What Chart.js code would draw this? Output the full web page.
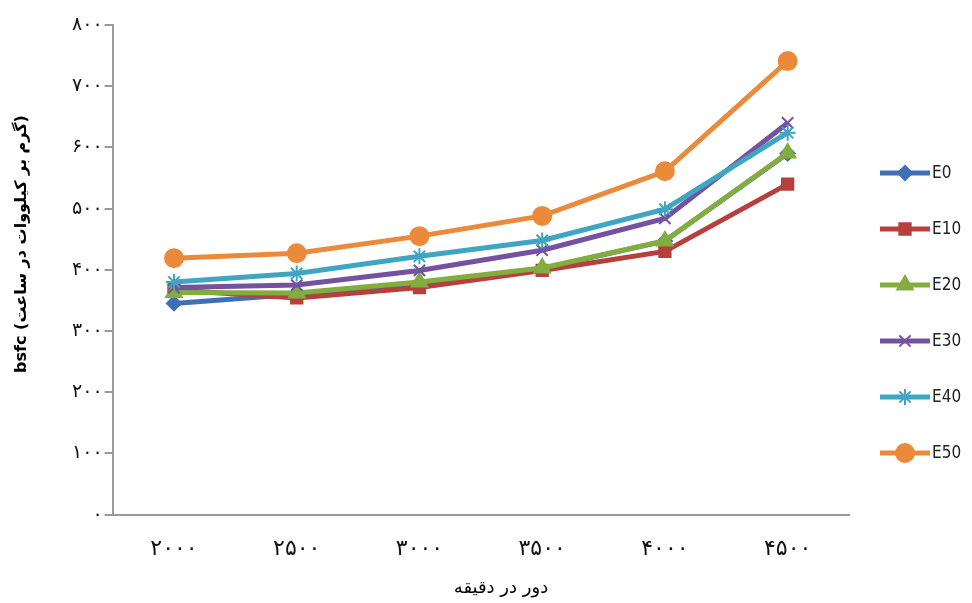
<!DOCTYPE html>
<html>
<head>
<meta charset="utf-8">
<script src="https://cdn.jsdelivr.net/npm/chart.js@4"></script>
<style>
  html, body { margin: 0; padding: 0; background: #fff; }
  #wrap { width: 972px; height: 603px; }
</style>
</head>
<body>
<div id="wrap"><canvas id="bsfcChart" width="972" height="603"></canvas></div>
<script>
// rpm categories (Persian digits as in the original)
const rpm = ["۲۰۰۰", "۲۵۰۰", "۳۰۰۰", "۳۵۰۰", "۴۰۰۰", "۴۵۰۰"];

const e0  = [345, 360, 378, 402, 447, 590];
const e10 = [367, 354, 371, 399, 430, 540];
const e20 = [363, 362, 380, 403, 447, 591];
const e30 = [371, 375, 399, 432, 484, 640];
const e40 = [380, 394, 422, 448, 499, 624];
const e50 = [419, 427, 455, 488, 561, 741];

const seriesNames = ["E0", "E10", "E20", "E30", "E40", "E50"];

const yTitle = "bsfc (گرم بر کیلووات در ساعت)";
const xTitle = "دور در دقیقه";

const faDigits = "۰۱۲۳۴۵۶۷۸۹";
function toFa(n) {
  return String(n).replace(/\d/g, d => faDigits[d]);
}

const styles = [
  { color: "#3f6fb5", point: "rectRot", r: 7 },
  { color: "#b5403d", point: "rect", r: 8 },
  { color: "#84ad3f", point: "triangle", r: 9 },
  { color: "#7452a0", point: "crossRot", r: 8 },
  { color: "#3ea5c3", point: "star", r: 8 },
  { color: "#ec8a3c", point: "circle", r: 9 },
];

const allData = [e0, e10, e20, e30, e40, e50];

// later series sit on top of earlier ones, like the original
const datasets = allData.map((vals, i) => ({
  label: seriesNames[i],
  data: vals,
  order: allData.length - i,
  borderColor: styles[i].color,
  backgroundColor: styles[i].color,
  borderWidth: 5,
  pointStyle: styles[i].point,
  pointRadius: styles[i].r,
  pointBorderWidth: 2,
  pointBackgroundColor: styles[i].color,
  pointBorderColor: styles[i].color,
  tension: 0,
}));

// legend + axis titles drawn by hand (titles sit off-centre in the original)
const sideLegend = {
  id: "sideLegend",
  afterDraw(chart) {
    const ctx = chart.ctx;
    const x0 = 880, top = 173, step = 56;
    ctx.save();
    chart.data.datasets.forEach((ds, i) => {
      const y = top + i * step;
      ctx.strokeStyle = ds.borderColor;
      ctx.fillStyle = ds.borderColor;
      ctx.lineWidth = 5;
      ctx.beginPath();
      ctx.moveTo(x0, y);
      ctx.lineTo(x0 + 50, y);
      ctx.stroke();
      ctx.lineWidth = 2;
      Chart.helpers.drawPoint(ctx, {
        pointStyle: ds.pointStyle, radius: ds.pointRadius, borderWidth: 2, rotation: 0
      }, x0 + 25, y);
      ctx.fillStyle = "#222";
      ctx.font = "17px 'DejaVu Sans Condensed', 'DejaVu Sans', sans-serif";
      ctx.textBaseline = "middle";
      ctx.textAlign = "left";
      ctx.fillText(ds.label, x0 + 52, y + 1);
    });

    ctx.fillStyle = "#000";
    ctx.textAlign = "center";
    ctx.textBaseline = "middle";
    ctx.font = "18px 'DejaVu Sans', sans-serif";
    ctx.fillText(xTitle, 501, 588);

    ctx.translate(22, 244);
    ctx.rotate(-Math.PI / 2);
    ctx.font = "bold 16px 'DejaVu Sans', sans-serif";
    ctx.fillText(yTitle, 0, 0);
    ctx.restore();
  }
};

const ctx = document.getElementById("bsfcChart").getContext("2d");
new Chart(ctx, {
  type: "line",
  data: { labels: rpm, datasets },
  plugins: [sideLegend],
  options: {
    responsive: false,
    animation: false,
    layout: { padding: { top: 25, right: 123, left: 70, bottom: 20 } },
    plugins: {
      legend: { display: false },
      tooltip: { enabled: false },
    },
    scales: {
      x: {
        offset: true,
        grid: { display: false, tickLength: 0 },
        border: { display: true, color: "#9a9a9a", width: 2 },
        ticks: {
          color: "#111",
          padding: 21,
          font: { family: "'DejaVu Sans'", size: 22 },
        },
      },
      y: {
        min: 0,
        max: 800,
        ticks: {
          stepSize: 100,
          color: "#111",
          padding: 2,
          font: { family: "'DejaVu Sans'", size: 19 },
          callback: v => toFa(v),
        },
        grid: {
          drawOnChartArea: false,
          drawTicks: true,
          tickLength: 8,
          color: "#9a9a9a",
          lineWidth: 2,
        },
        border: { display: true, color: "#9a9a9a", width: 2 },
      },
    },
  },
});
</script>
</body>
</html>
